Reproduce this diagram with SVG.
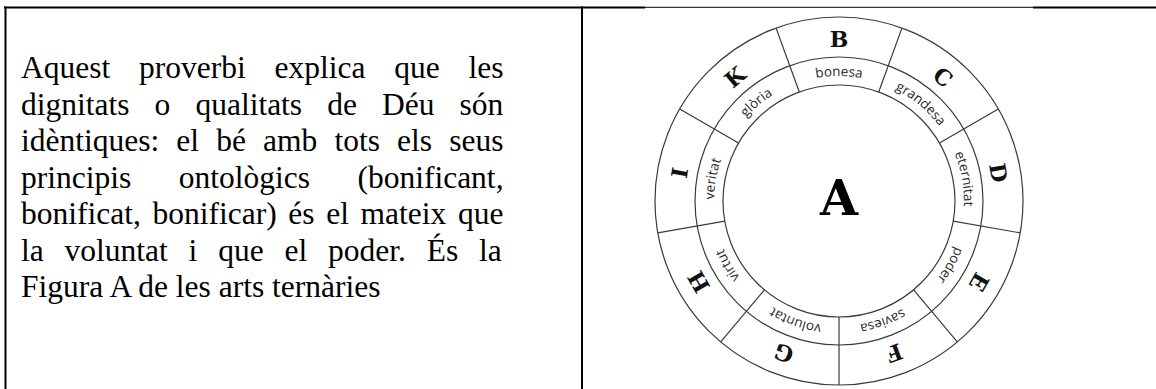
<svg xmlns="http://www.w3.org/2000/svg" xmlns:xlink="http://www.w3.org/1999/xlink" width="1156" height="389" viewBox="0 0 1156 389">
<style>
.border{stroke:#000;stroke-width:2;fill:none}
.para{font-family:"Liberation Serif","Times New Roman",serif;font-size:31.5px;fill:#000}
.ring{fill:none;stroke:#3a3a3a;stroke-width:1.2}
.div{stroke:#3a3a3a;stroke-width:1.2}
.letter{font-family:"DejaVu Serif",serif;font-weight:bold;font-size:22px;fill:#111;text-anchor:middle}
.word{font-family:"Open Sans","Liberation Sans",sans-serif;font-size:13.5px;fill:#2a2a2a}
.big{font-family:"DejaVu Serif",serif;font-weight:bold;font-size:49px;fill:#000;text-anchor:middle}
</style>
<defs>
<path id="arc" d="M758.65 105.24 A125 125 0 0 1 919.35 105.24"/>
</defs>
<rect width="1156" height="389" fill="#fff"/>
<g id="table">
<line class="border" x1="4" y1="7.5" x2="645" y2="7.5"/>
<line x1="645" y1="7.3" x2="1033" y2="7.3" stroke="#000" stroke-width="1"/>
<line class="border" x1="1033" y1="7.5" x2="1156" y2="7.5"/>
<line class="border" x1="5.5" y1="6.5" x2="5.5" y2="389"/>
<line class="border" x1="582" y1="6.5" x2="582" y2="389"/>
</g>
<g id="paragraph" class="para">
<text x="21" y="78" style="word-spacing:20.9px">Aquest proverbi explica que les</text>
<text x="21" y="114.5" style="word-spacing:17.2px">dignitats o qualitats de Déu són</text>
<text x="21" y="151" style="word-spacing:9.26px">idèntiques: el bé amb tots els seus</text>
<text x="21" y="187.5" style="word-spacing:39.6px">principis ontològics (bonificant,</text>
<text x="21" y="224" style="word-spacing:3.77px">bonificat, bonificar) és el mateix que</text>
<text x="21" y="260.5" style="word-spacing:12.94px">la voluntat i que el poder. És la</text>
<text x="21" y="297">Figura A de les arts ternàries</text>
</g>
<g id="figureA">
<circle class="ring" cx="839" cy="201" r="184"/>
<circle class="ring" cx="839" cy="201" r="144"/>
<circle class="ring" cx="839" cy="201" r="116"/>
<g id="dividers">
<line class="div" x1="878.7" y1="92.0" x2="901.9" y2="28.1"/>
<line class="div" x1="939.5" y1="143" x2="998.3" y2="109"/>
<line class="div" x1="953.2" y1="221.1" x2="1020.2" y2="232.9"/>
<line class="div" x1="913.6" y1="289.9" x2="957.3" y2="341.9"/>
<line class="div" x1="839" y1="317" x2="839" y2="385"/>
<line class="div" x1="764.4" y1="289.9" x2="720.7" y2="341.9"/>
<line class="div" x1="724.8" y1="221.1" x2="657.8" y2="232.9"/>
<line class="div" x1="738.5" y1="143" x2="679.7" y2="109"/>
<line class="div" x1="799.3" y1="92.0" x2="776.1" y2="28.1"/>
</g>
<text class="big" x="839" y="215">A</text>
<g id="sector-B"><text class="letter" x="839" y="47">B</text><text class="word"><textPath href="#arc" xlink:href="#arc" startOffset="50%" text-anchor="middle">bonesa</textPath></text></g>
<g id="sector-C" transform="rotate(40 839 201)"><text class="letter" x="839" y="47">C</text><text class="word"><textPath href="#arc" xlink:href="#arc" startOffset="50%" text-anchor="middle">grandesa</textPath></text></g>
<g id="sector-D" transform="rotate(80 839 201)"><text class="letter" x="839" y="47">D</text><text class="word"><textPath href="#arc" xlink:href="#arc" startOffset="50%" text-anchor="middle">eternitat</textPath></text></g>
<g id="sector-E" transform="rotate(120 839 201)"><text class="letter" x="839" y="47">E</text><text class="word"><textPath href="#arc" xlink:href="#arc" startOffset="50%" text-anchor="middle">poder</textPath></text></g>
<g id="sector-F" transform="rotate(160 839 201)"><text class="letter" x="839" y="47">F</text><text class="word"><textPath href="#arc" xlink:href="#arc" startOffset="50%" text-anchor="middle">saviesa</textPath></text></g>
<g id="sector-G" transform="rotate(200 839 201)"><text class="letter" x="839" y="47">G</text><text class="word"><textPath href="#arc" xlink:href="#arc" startOffset="50%" text-anchor="middle">voluntat</textPath></text></g>
<g id="sector-H" transform="rotate(240 839 201)"><text class="letter" x="839" y="47">H</text><text class="word"><textPath href="#arc" xlink:href="#arc" startOffset="50%" text-anchor="middle">virtut</textPath></text></g>
<g id="sector-I" transform="rotate(280 839 201)"><text class="letter" x="839" y="47">I</text><text class="word"><textPath href="#arc" xlink:href="#arc" startOffset="50%" text-anchor="middle">veritat</textPath></text></g>
<g id="sector-K" transform="rotate(320 839 201)"><text class="letter" x="839" y="47">K</text><text class="word"><textPath href="#arc" xlink:href="#arc" startOffset="50%" text-anchor="middle">glòria</textPath></text></g>
</g>
</svg>
